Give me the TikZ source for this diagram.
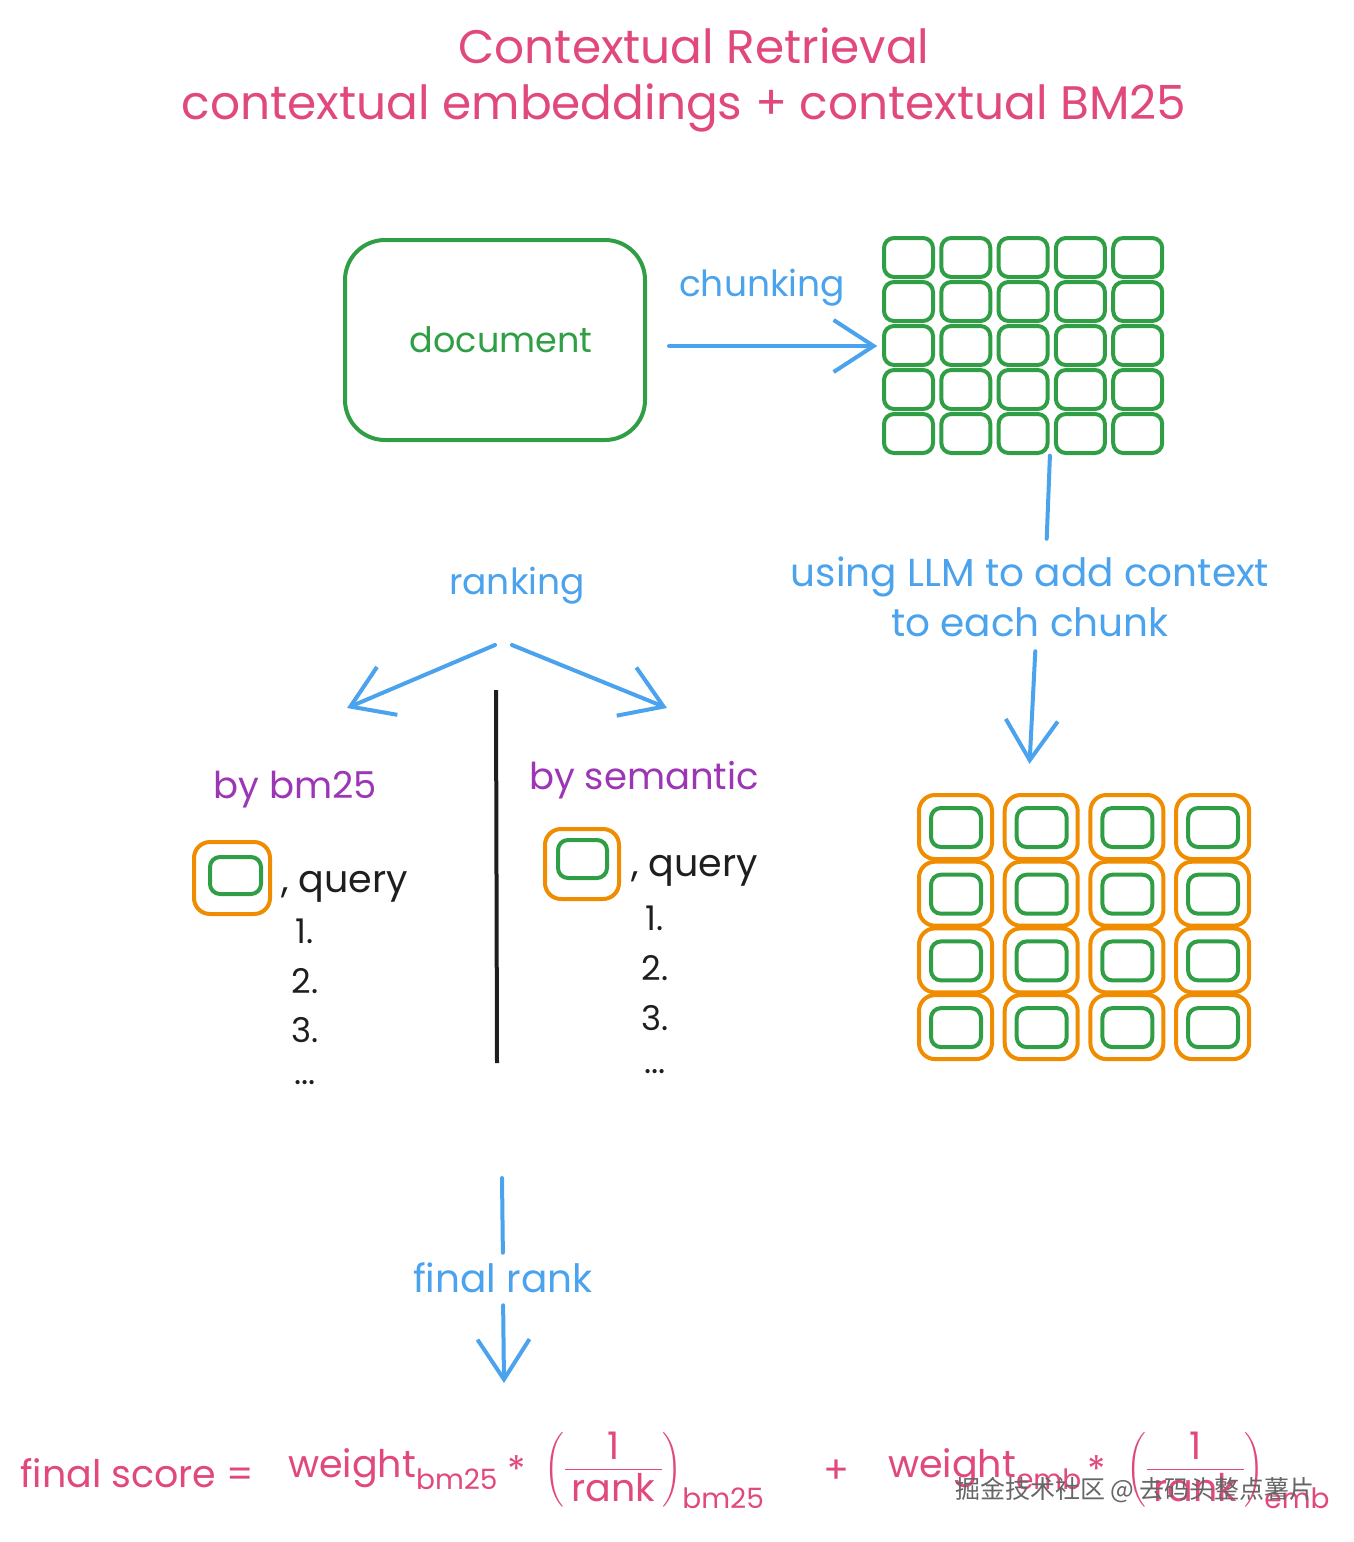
\documentclass[tikz,border=0pt]{standalone}
\usepackage{amsmath}
\usepackage{fontspec}
\setmainfont{Poppins}
\newfontfamily\cjk{Noto Sans CJK SC}
\usetikzlibrary{arrows.meta}
\usetikzlibrary{positioning}

\definecolor{xpink}{HTML}{E0487E}
\definecolor{xblue}{HTML}{4AA3EC}
\definecolor{xgreen}{HTML}{2F9E44}
\definecolor{xorange}{HTML}{F08C00}
\definecolor{xpurple}{HTML}{9C36B5}
\definecolor{xblack}{HTML}{1E1E1E}

\newcommand{\subsz}{\fontsize{28}{30}\selectfont}

\tikzset{
  sketch/.style={line width=4pt, rounded corners=10pt},
  chunkbox/.style={sketch, draw=xgreen},
  ctxbox/.style={sketch, draw=xorange, rounded corners=16pt},
  barb/.tip={Straight Barb[length=40pt, width=52pt, line width=4pt]},
  flowline/.style={line width=4pt, draw=xblue, line cap=round},
  flow/.style={flowline, -barb},
  titletxt/.style={text=xpink, inner sep=0, font=\fontsize{47}{52}\selectfont},
  bluetxt/.style={text=xblue, inner sep=0, font=\fontsize{36}{50}\selectfont, align=center},
  headtxt/.style={text=xpurple, inner sep=0, font=\fontsize{37}{40}\selectfont},
  listtxt/.style={text=xblack, inner sep=0, font=\fontsize{34}{40}\selectfont},
  formtxt/.style={text=xpink, inner sep=0, font=\fontsize{38}{40}\selectfont},
  docbox/.style={draw=xgreen, line width=4pt, rounded corners=40pt, minimum width=300, minimum height=200, text=xgreen, font=\fontsize{35}{40}\selectfont}
}

\begin{document}
\begin{tikzpicture}[x=1pt, y=-1pt]
\useasboundingbox (0,0) rectangle (1354,1542);
%title
\node[titletxt] (title) at (694,46) {Contextual Retrieval};
\node[titletxt] (subtitle) at (684,108) {contextual embeddings + contextual BM25};

%document -> chunks
\node[docbox] (doc) at (495,340) {\hspace{12pt}document};
\node[inner sep=0, minimum width=279, minimum height=215] (chunks) at (1023,346) {};
\foreach \i in {0,...,4} {
  \foreach \j in {0,...,4} {
    \draw[chunkbox] (884+57.3*\i, 238+44*\j) rectangle +(49,39);
  }
}
\node[bluetxt] (lchunk) at (762,288) {chunking};
\draw[flow, shorten <=22pt, shorten >=6pt] (doc.east |- chunks.west) -- (chunks.west);

%add context
\node[bluetxt, font=\fontsize{39}{50}\selectfont] (llm) at (1030,597) {using LLM to add context\\to each chunk};
\node[inner sep=0, minimum width=333, minimum height=266] (ctx) at (1085,927) {};
\foreach \i in {0,...,3} {
  \foreach \j in {0,...,3} {
    \draw[ctxbox] (919+85.7*\i, 795+66.7*\j) rectangle +(73,64);
    \draw[chunkbox] (931+85.7*\i, 808+66.7*\j) rectangle +(50,39);
  }
}
\draw[flowline, shorten <=2pt, shorten >=18pt] ([xshift=27]chunks.south) -- ([xshift=16]llm.north);
\draw[flow, shorten <=14pt, shorten >=30pt] ([xshift=6]llm.south) -- ([xshift=-57]ctx.north);

%ranking
\node[bluetxt] (ranking) at (517,586) {ranking};
\coordinate (rkl) at (495,645);
\coordinate (rkr) at (512,645);
\coordinate (bmtip) at (347,708);
\coordinate (semtip) at (667,708);
\draw[flow] (rkl) -- (bmtip);
\draw[flow] (rkr) -- (semtip);
\draw[line width=4pt, draw=xblack] (496,690) -- (497,1063);

%by bm25
\node[headtxt] (bm) at (295,790) {by bm25};
\draw[ctxbox] (194,842) rectangle (270,914);
\draw[chunkbox] (210,857) rectangle (261,894);
\node[listtxt, anchor=base west, font=\fontsize{38}{40}\selectfont] (bmq) at (281,892) {, query};
\node[listtxt] (bm1) at (305,931) {1.};
\node[listtxt] (bm2) at (305,981) {2.};
\node[listtxt] (bm3) at (305,1030) {3.};
\node[listtxt] (bm4) at (305,1083) {...};

%by semantic
\node[headtxt] (sem) at (644,780) {by semantic};
\draw[ctxbox] (545,829) rectangle (619,899);
\draw[chunkbox] (558,840) rectangle (607,878);
\node[listtxt, anchor=base west, font=\fontsize{38}{40}\selectfont] (semq) at (631,876) {, query};
\node[listtxt] (sem1) at (655,918) {1.};
\node[listtxt] (sem2) at (655,968) {2.};
\node[listtxt] (sem3) at (655,1018) {3.};
\node[listtxt] (sem4) at (655,1072) {...};

%final rank
\coordinate (fr0) at (502,1178);
\coordinate (fr1) at (504,1383);
\node[bluetxt, font=\fontsize{39}{50}\selectfont] (frank) at (503,1278) {final rank};
\draw[flowline, shorten >=10pt] (fr0) -- (frank.north);
\draw[flow, shorten <=12pt] (frank.south) -- (fr1);

%score
\node[formtxt, anchor=base west] (score) at (20,1487) {final score =};
\node[formtxt, anchor=base west] (w1) at (288,1477) {weight\textsubscript{\subsz bm25}};
\node[formtxt] (st1) at (517,1470) {*};
\node[formtxt, anchor=west] (f1) at (544,1470) {$\left(\dfrac{\text{1}}{\text{\,rank\,}}\right)_{\text{\subsz bm25}}$};
\node[formtxt] (plus) at (836,1472) {+};
\node[formtxt, anchor=base west] (w2) at (888,1477) {weight\textsubscript{\subsz emb}};
\node[formtxt] (st2) at (1097,1470) {*};
\node[formtxt, anchor=west] (f2) at (1126,1470) {$\left(\dfrac{\text{1}}{\text{\,rank\,}}\right)_{\text{\subsz emb}}$};
\node[text=black!60, inner sep=0, font=\cjk\fontsize{25}{30}\selectfont] (mark) at (1135,1490) {掘金技术社区 @ 去码头整点薯片};
\end{tikzpicture}
\end{document}
